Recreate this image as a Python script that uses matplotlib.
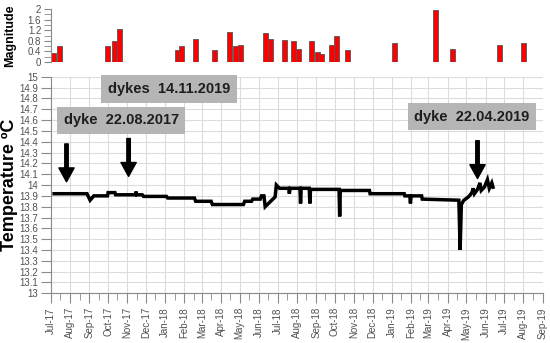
import numpy as np
import pandas as pd
import matplotlib
matplotlib.use('Agg')
import matplotlib.pyplot as plt
import matplotlib.dates as mdates
from matplotlib.ticker import MultipleLocator, FormatStrFormatter

plt.rcParams['font.family'] = ['Liberation Sans', 'DejaVu Sans']

# earthquake magnitudes (top panel)
quake_dates = ['2017-07-05', '2017-07-15', '2017-09-30', '2017-10-12', '2017-10-19',
               '2018-01-21', '2018-01-28', '2018-02-19', '2018-03-22', '2018-04-15',
               '2018-04-24', '2018-05-03', '2018-06-11', '2018-06-20', '2018-07-12',
               '2018-07-26', '2018-08-03', '2018-08-25', '2018-09-04', '2018-09-10',
               '2018-09-26', '2018-10-04', '2018-10-22', '2019-01-05', '2019-03-12',
               '2019-04-09', '2019-06-24', '2019-08-01']
magnitudes = [0.35, 0.6, 0.6, 0.8, 1.25,
              0.45, 0.6, 0.85, 0.45, 1.15,
              0.6, 0.65, 1.1, 0.85, 0.83,
              0.8, 0.48, 0.8, 0.37, 0.3,
              0.65, 1.0, 0.45, 0.7, 1.95,
              0.48, 0.65, 0.73]

# water temperature record (bottom panel)
temp_dates = ['2017-07-06', '2017-08-28', '2017-09-02', '2017-09-05', '2017-09-08',
              '2017-09-30', '2017-10-01', '2017-10-12', '2017-10-13', '2017-11-14',
              '2017-11-15', '2017-11-16', '2017-11-25', '2017-11-27', '2018-01-03',
              '2018-01-05', '2018-02-17', '2018-02-19', '2018-03-16', '2018-03-18',
              '2018-05-07', '2018-05-09', '2018-05-20', '2018-05-22', '2018-06-03',
              '2018-06-05', '2018-06-09', '2018-06-11', '2018-06-27', '2018-06-29',
              '2018-07-04', '2018-07-19', '2018-07-20', '2018-07-21', '2018-08-06',
              '2018-08-07', '2018-08-08', '2018-08-21', '2018-08-22', '2018-08-23',
              '2018-10-08', '2018-10-09', '2018-10-10', '2018-11-26', '2018-11-27',
              '2019-01-21', '2019-01-22', '2019-01-30', '2019-01-31', '2019-02-01',
              '2019-02-18', '2019-02-19', '2019-04-19', '2019-04-21', '2019-04-23',
              '2019-04-27', '2019-05-02', '2019-05-06', '2019-05-10', '2019-05-12',
              '2019-05-14', '2019-05-19', '2019-05-23', '2019-05-25', '2019-05-30',
              '2019-06-04', '2019-06-07', '2019-06-11', '2019-06-13']
temp_vals = [13.92, 13.92, 13.86, 13.88, 13.90,
             13.90, 13.93, 13.93, 13.91, 13.91,
             13.94, 13.91, 13.91, 13.895, 13.895,
             13.88, 13.88, 13.85, 13.85, 13.82,
             13.82, 13.85, 13.85, 13.87, 13.87,
             13.90, 13.90, 13.80, 13.89, 14.00,
             13.97, 13.97, 13.92, 13.97, 13.97,
             13.83, 13.97, 13.97, 13.83, 13.96,
             13.96, 13.71, 13.95, 13.95, 13.92,
             13.92, 13.90, 13.90, 13.83, 13.90,
             13.90, 13.87, 13.86, 13.40, 13.82,
             13.86, 13.88, 13.90, 13.93, 13.97,
             13.92, 13.96, 14.02, 13.95, 13.98,
             14.05, 13.97, 14.02, 13.98]

# dyke annotations: label, label position, arrow x, arrow top, arrow tip
notes = [('dykes  14.11.2019', '2018-01-07', 14.887, '2017-11-03', 14.43, 14.08),
         ('dyke  22.08.2017', '2017-10-22', 14.60, '2017-07-26', 14.38, 14.03),
         ('dyke  22.04.2019', '2019-05-10', 14.63, '2019-05-19', 14.41, 14.06)]

qd = pd.to_datetime(quake_dates)
td = pd.to_datetime(temp_dates)
x0, x1 = pd.Timestamp('2017-07-01'), pd.Timestamp('2019-09-01')

axis_col = '#8a8a8a'
lab_col = '#505050'

fig = plt.figure(figsize=(5.5, 3.43), dpi=100)
ax1 = fig.add_axes([0.0927, 0.819, 0.894, 0.155])
ax2 = fig.add_axes([0.0927, 0.145, 0.894, 0.631])

# top panel
ax1.bar(qd, magnitudes, width=8, color='#ff0000', edgecolor='#555555', linewidth=0.6)
ax1.set_xlim(x0, x1)
ax1.set_ylim(0, 2)
ax1.yaxis.set_major_locator(MultipleLocator(0.4))
ax1.yaxis.set_minor_locator(MultipleLocator(0.2))
ax1.yaxis.set_major_formatter(plt.FuncFormatter(lambda v, p: ('%.1f' % v).rstrip('0').rstrip('.')))
for s in ['top', 'right', 'bottom']:
    ax1.spines[s].set_visible(False)
ax1.spines['left'].set_color(axis_col)
ax1.set_xticks([])
ax1.tick_params(axis='y', which='both', length=5, color=axis_col, labelsize=7, labelcolor=lab_col, pad=2)
ax1.set_ylabel('Magnitude', fontsize=9, fontweight='bold')
ax1.yaxis.set_label_coords(-0.07, 0.5)

# bottom panel
ax2.plot(td, temp_vals, color='black', linewidth=2.5, solid_joinstyle='miter')
ax2.set_xlim(x0, x1)
ax2.set_ylim(13, 15)
ax2.yaxis.set_major_locator(MultipleLocator(0.1))
ax2.yaxis.set_major_formatter(plt.FuncFormatter(lambda v, p: ('%.1f' % v).rstrip('0').rstrip('.')))
ax2.xaxis.set_major_locator(mdates.MonthLocator())
ax2.xaxis.set_minor_locator(mdates.MonthLocator(bymonthday=16))
ax2.xaxis.set_major_formatter(mdates.DateFormatter('%b-%y'))
ax2.grid(True, which='major', color='#dcdcdc', linewidth=0.8)
ax2.set_axisbelow(True)
for s in ['top', 'right']:
    ax2.spines[s].set_visible(False)
ax2.spines['left'].set_color(axis_col)
ax2.spines['bottom'].set_color(axis_col)
ax2.tick_params(axis='y', length=7, color=axis_col, labelsize=7, labelcolor=lab_col, pad=2)
ax2.tick_params(axis='x', which='major', length=7, color=axis_col, labelsize=7,
                labelcolor=lab_col, labelrotation=90, pad=3)
ax2.tick_params(axis='x', which='minor', length=5, color=axis_col)
ax2.set_ylabel('Temperature ºC', fontsize=13, fontweight='bold')
ax2.yaxis.set_label_coords(-0.068, 0.5)

for label, lx, ly, ax_x, ytop, ytip in notes:
    ax2.text(pd.Timestamp(lx), ly, label, ha='center', va='center', fontsize=10.5,
             fontweight='bold', color='#1e1e1e',
             bbox=dict(boxstyle='square,pad=0.45', facecolor='#b5b5b5', edgecolor='none'))
    ax2.annotate('', xy=(pd.Timestamp(ax_x), ytip), xytext=(pd.Timestamp(ax_x), ytop),
                 arrowprops=dict(facecolor='black', edgecolor='black', width=2.5,
                                 headwidth=11, headlength=10, shrink=0))

fig.savefig('out.png', dpi=100)
